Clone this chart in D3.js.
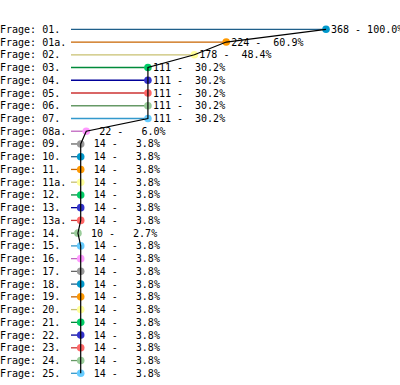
<!DOCTYPE html>
<html>
<head>
<meta charset="utf-8">
<script src="https://cdn.jsdelivr.net/npm/d3@7"></script>
<style>
  body { margin: 0; background: #fff; }
  svg { display: block; }
  text { font-family: "DejaVu Sans Mono", monospace; font-size: 10px; fill: #000; white-space: pre; }
</style>
</head>
<body>
<div id="chart"></div>
<script>
// data
const questions = ["01.", "01a.", "02.", "03.", "04.", "05.", "06.", "07.", "08a.", "09.",
  "10.", "11.", "11a.", "12.", "13.", "13a.", "14.", "15.", "16.", "17.",
  "18.", "19.", "20.", "21.", "22.", "23.", "24.", "25."];
const counts = [368, 224, 178, 111, 111, 111, 111, 111, 22, 14,
  14, 14, 14, 14, 14, 14, 10, 14, 14, 14,
  14, 14, 14, 14, 14, 14, 14, 14];
const percents = [100.0, 60.9, 48.4, 30.2, 30.2, 30.2, 30.2, 30.2, 6.0, 3.8,
  3.8, 3.8, 3.8, 3.8, 3.8, 3.8, 2.7, 3.8, 3.8, 3.8,
  3.8, 3.8, 3.8, 3.8, 3.8, 3.8, 3.8, 3.8];

// colours (cycle of 10): dot colour and a darker stem colour
const dotColors = ["#0099cc", "#ff9900", "#ffff99", "#00cc66", "#3333cc",
  "#ff6666", "#99cc99", "#66ccff", "#ff99ff", "#999999"];
const stemColors = ["#1f5f8a", "#c86400", "#c8c070", "#008a3a", "#000099",
  "#cc3333", "#669966", "#3399cc", "#c066c0", "#666666"];

const width = 400, height = 385;

const svg = d3.select("#chart").append("svg")
  .attr("width", width)
  .attr("height", height);

// scales
const x = d3.scaleLinear().domain([0, 368]).range([71, 326]);
const y = d3.scalePoint().domain(questions).range([29.3, 373.3]);

const rows = questions.map((q, i) => ({ q, v: counts[i], p: percents[i], i }));

// category labels
svg.selectAll(".cat")
  .data(rows)
  .enter()
  .append("text")
  .attr("class", "cat")
  .attr("x", 0)
  .attr("y", d => y(d.q) + 3.5)
  .text(d => "Frage: " + d.q);

// stems
svg.selectAll(".stem")
  .data(rows)
  .enter()
  .append("line")
  .attr("x1", x(0))
  .attr("x2", d => x(d.v))
  .attr("y1", d => y(d.q))
  .attr("y2", d => y(d.q))
  .attr("stroke", d => stemColors[d.i % 10])
  .attr("stroke-width", 1.3);

// dots
svg.selectAll(".dot")
  .data(rows)
  .enter()
  .append("circle")
  .attr("cx", d => x(d.v))
  .attr("cy", d => y(d.q))
  .attr("r", 3.8)
  .attr("fill", d => dotColors[d.i % 10]);

// black line through the dots
const line = d3.line()
  .x(d => x(d.v))
  .y(d => y(d.q));

svg.append("path")
  .datum(rows)
  .attr("d", line)
  .attr("fill", "none")
  .attr("stroke", "#000")
  .attr("stroke-width", 1.2);

// value labels
svg.selectAll(".val")
  .data(rows)
  .enter()
  .append("text")
  .attr("class", "val")
  .attr("x", d => x(d.v) + (d.v < 100 ? 13 : 5))
  .attr("y", d => y(d.q) + 3.5)
  .text(d => d.v + " - " + d.p.toFixed(1).padStart(5, " ") + "%");
</script>
</body>
</html>
